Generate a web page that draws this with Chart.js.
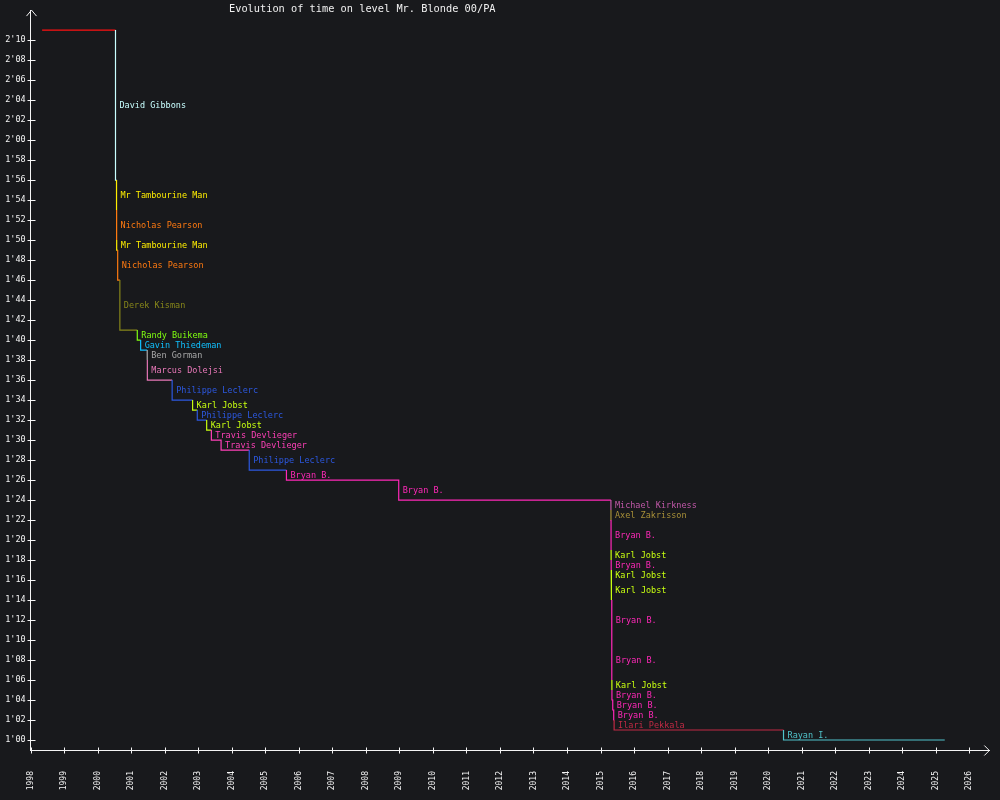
<!DOCTYPE html>
<html>
<head>
<meta charset="utf-8">
<script src="https://cdn.jsdelivr.net/npm/chart.js@4"></script>
<style>
html,body{margin:0;padding:0;background:#18191c;}
#wrap{width:1000px;height:800px;position:relative;}
</style>
</head>
<body>
<div id="wrap"><canvas id="c"></canvas></div>
<script>
// ---- data ----
const chartTitle = "Evolution of time on level Mr. Blonde 00/PA";
const holders = ["", "David Gibbons", "Mr Tambourine Man", "Nicholas Pearson", "Mr Tambourine Man", "Nicholas Pearson",
  "Derek Kisman", "Randy Buikema", "Gavin Thiedeman", "Ben Gorman", "Marcus Dolejsi",
  "Philippe Leclerc", "Karl Jobst", "Philippe Leclerc", "Karl Jobst", "Travis Devlieger", "Travis Devlieger",
  "Philippe Leclerc", "Bryan B.", "Bryan B.",
  "Michael Kirkness", "Axel Zakrisson", "Bryan B.", "Karl Jobst", "Bryan B.", "Karl Jobst", "Karl Jobst",
  "Bryan B.", "Bryan B.", "Karl Jobst", "Bryan B.", "Bryan B.", "Bryan B.", "Ilari Pekkala", "Rayan I."];
// record dates (decimal years)
const recordDates = [1998.34, 2000.53, 2000.56, 2000.562, 2000.565, 2000.595,
  2000.66, 2001.18, 2001.28, 2001.475, 2001.48,
  2002.22, 2002.83, 2002.97, 2003.25, 2003.39, 2003.68,
  2004.52, 2005.63, 2008.98,
  2015.31, 2015.312, 2015.314, 2015.316, 2015.318, 2015.32, 2015.322,
  2015.335, 2015.337, 2015.339, 2015.341, 2015.365, 2015.394, 2015.406, 2020.46];
// record times (seconds)
const recordTimes = [131, 116, 113, 110, 109, 106,
  101, 100, 99, 98, 96,
  94, 93, 92, 91, 90, 89,
  87, 86, 84,
  83, 82, 79, 78, 77, 76, 74,
  70, 66, 65, 64, 63, 62, 61, 60];
const lastDate = 2025.27;
const xTicks = [1998,1999,2000,2001,2002,2003,2004,2005,2006,2007,2008,2009,2010,2011,2012,2013,2014,2015,2016,2017,2018,2019,2020,2021,2022,2023,2024,2025,2026];
const yTicks = [60,62,64,66,68,70,72,74,76,78,80,82,84,86,88,90,92,94,96,98,100,102,104,106,108,110,112,114,116,118,120,122,124,126,128,130];

// ---- styles ----
const firstColor = "#ff1010";
const holderColors = {
  "David Gibbons": "#c8ffff",
  "Mr Tambourine Man": "#ffee00",
  "Nicholas Pearson": "#ff7a10",
  "Derek Kisman": "#86861a",
  "Randy Buikema": "#80ff10",
  "Gavin Thiedeman": "#10c0ff",
  "Ben Gorman": "#a8a8a8",
  "Marcus Dolejsi": "#e878b8",
  "Philippe Leclerc": "#2c58e0",
  "Karl Jobst": "#c8ff10",
  "Travis Devlieger": "#ff40b8",
  "Bryan B.": "#ff28b8",
  "Michael Kirkness": "#c058a8",
  "Axel Zakrisson": "#a89038",
  "Ilari Pekkala": "#c02a44",
  "Rayan I.": "#50c4cc"
};
const colorOf = i => i === 0 ? firstColor : (holderColors[holders[i]] || "#ffffff");
const MONO = "'DejaVu Sans Mono', 'Liberation Mono', monospace";
const AXIS = "#f4f4f4";

function fmt(v){ const m = Math.floor(v/60), s = v%60; return m + "'" + (s<10?"0":"") + s; }

// build step path points
const pts = [{x: recordDates[0], y: recordTimes[0]}];
const owners = [0];
for (let i = 1; i < recordDates.length; i++) {
  pts.push({x: recordDates[i], y: recordTimes[i-1]}); owners.push(i);
  pts.push({x: recordDates[i], y: recordTimes[i]}); owners.push(i);
}
pts.push({x: lastDate, y: recordTimes[recordTimes.length-1]}); owners.push(recordTimes.length-1);

const bgPlugin = {
  id: 'bg',
  beforeDraw(chart){
    const c = chart.ctx; c.save(); c.fillStyle = "#18191c"; c.fillRect(0,0,chart.width,chart.height); c.restore();
  }
};
const decoPlugin = {
  id: 'deco',
  afterDraw(chart){
    const c = chart.ctx, xs = chart.scales.x, ys = chart.scales.y, a = chart.chartArea;
    c.save();
    // labels
    c.font = "8.5px " + MONO; c.textBaseline = "middle"; c.textAlign = "left";
    for (let i = 1; i < recordDates.length; i++) {
      const x = xs.getPixelForValue(recordDates[i]) + 4;
      const y = ys.getPixelForValue((recordTimes[i-1] + recordTimes[i]) / 2) + 1;
      c.fillStyle = colorOf(i);
      c.fillText(holders[i], x, y);
    }
    // tick marks crossing axes
    c.strokeStyle = AXIS; c.lineWidth = 1;
    c.beginPath();
    const lx = Math.round(a.left) + 0.5;
    yTicks.forEach(v => { const y = Math.round(ys.getPixelForValue(v)) + 0.5; c.moveTo(lx-4, y); c.lineTo(lx+4, y); });
    const by = Math.round(a.bottom) + 0.5;
    xTicks.forEach(v => { const x = Math.round(xs.getPixelForValue(v)) + 0.5; c.moveTo(x, by-3); c.lineTo(x, by+3); });
    // arrows
    c.moveTo(lx-5, a.top+6); c.lineTo(lx, a.top); c.lineTo(lx+5, a.top+6);
    c.moveTo(a.right-5, by-5); c.lineTo(a.right, by); c.lineTo(a.right-5, by+5);
    c.stroke();
    // title
    c.font = "10.3px " + MONO; c.fillStyle = "#f0f0f0"; c.textBaseline = "middle";
    c.fillText(chartTitle, 229, 9);
    c.restore();
  }
};

new Chart(document.getElementById('c'), {
  type: 'line',
  data: {
    datasets: [{
      data: pts,
      borderWidth: 1.2,
      pointRadius: 0,
      pointHoverRadius: 0,
      tension: 0,
      fill: false,
      borderColor: "#ffffff",
      segment: { borderColor: ctx => colorOf(owners[ctx.p0DataIndex]) }
    }]
  },
  options: {
    responsive: true,
    maintainAspectRatio: false,
    animation: false,
    events: [],
    layout: { padding: { left: 0, right: 9.3, top: 10, bottom: 0 } },
    plugins: { legend: { display: false }, title: { display: false }, tooltip: { enabled: false } },
    scales: {
      x: {
        type: 'linear', min: 1998, max: 2026.6,
        afterBuildTicks: s => { s.ticks = xTicks.map(v => ({value: v})); },
        afterFit: s => { s.height = 50; },
        grid: { drawOnChartArea: false, drawTicks: false },
        border: { display: true, color: AXIS, width: 1 },
        ticks: { autoSkip: false, minRotation: 90, maxRotation: 90, padding: 21, color: AXIS,
          font: { family: MONO, size: 8 }, callback: v => String(v) }
      },
      y: {
        type: 'linear', min: 59, max: 133,
        afterBuildTicks: s => { s.ticks = yTicks.map(v => ({value: v})); },
        afterFit: s => { s.width = 30.7; },
        grid: { drawOnChartArea: false, drawTicks: false },
        border: { display: true, color: AXIS, width: 1 },
        ticks: { autoSkip: false, padding: 5, color: AXIS, font: { family: MONO, size: 8.5 },
          callback: v => fmt(v) }
      }
    }
  },
  plugins: [bgPlugin, decoPlugin]
});
</script>
</body>
</html>
